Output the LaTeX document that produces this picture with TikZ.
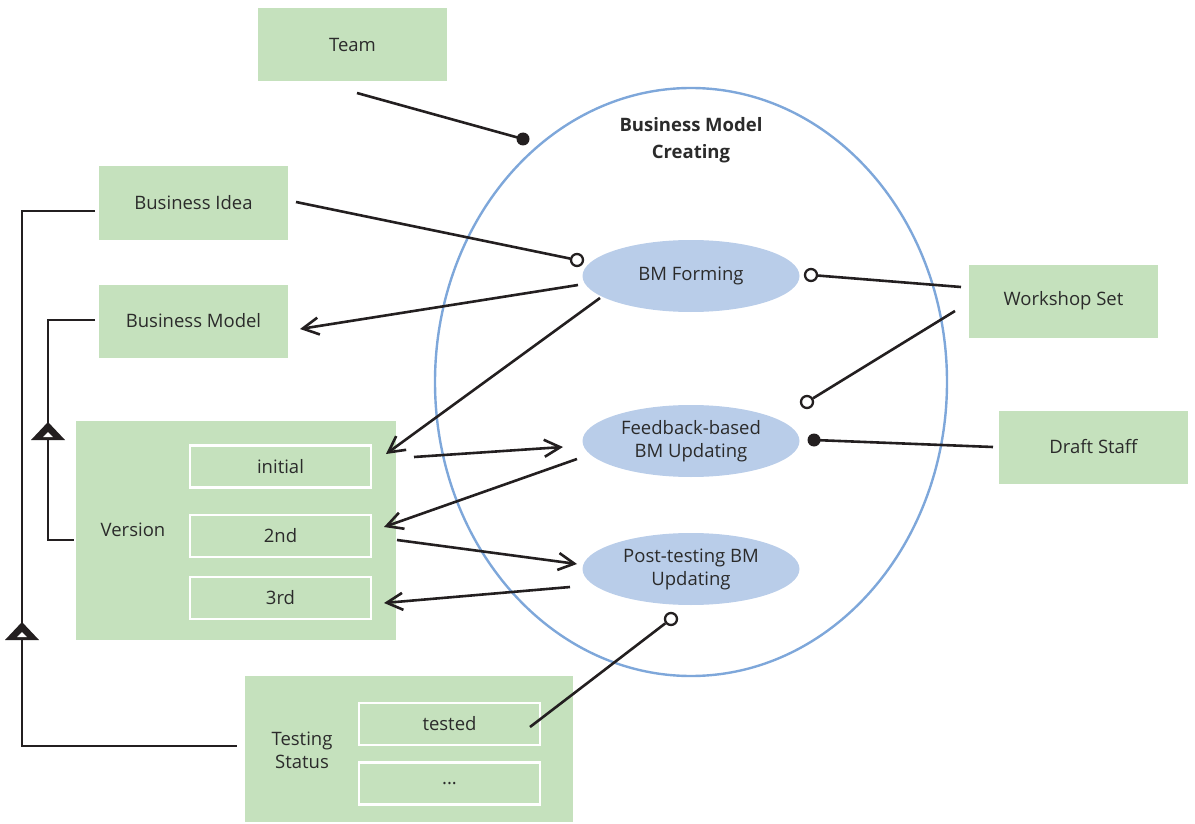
\documentclass[tikz,border=0pt]{standalone}
\usepackage{fontspec}
\setmainfont{Open Sans}
\usetikzlibrary{arrows.meta,shapes.geometric}
\definecolor{boxgreen}{HTML}{C5E1BD}
\definecolor{usefill}{HTML}{B9CDE9}
\definecolor{frameblue}{HTML}{7EA7DA}
\definecolor{ink}{HTML}{231F20}
\definecolor{txt}{HTML}{2B2B2B}
\begin{document}
\begin{tikzpicture}[x=1pt,y=-1pt,
  lbl/.style={text=txt,font=\fontsize{18.5}{23}\selectfont},
  box/.style={lbl,fill=boxgreen,draw=none,inner sep=0pt,minimum width=189pt,minimum height=73pt},
  slot/.style={lbl,fill=boxgreen,draw=white,line width=2.5pt,inner sep=0pt,minimum width=181pt,minimum height=42pt},
  usecase/.style={lbl,ellipse,fill=usefill,draw=none,inner sep=0pt,minimum width=217pt,minimum height=72pt,align=center},
  link/.style={draw=ink,line width=2.6pt},
  flow/.style={link,-{Straight Barb[length=16pt,width=17pt]}},
  opendot/.style={circle,draw=ink,fill=white,line width=2.3pt,minimum size=12pt,inner sep=0pt},
  fulldot/.style={circle,fill=ink,draw=none,minimum size=13pt,inner sep=0pt},
  genhead/.pic={
    \fill[ink] (-17,9) -- (0,-9) -- (17,9) -- cycle;
    \fill[white] (-5,6) -- (0,1) -- (5,6) -- cycle;
  }
]
\useasboundingbox (0,0) rectangle (1195,824);

% system boundary
\draw[frameblue,line width=2.4pt] (691,382) ellipse [x radius=256, y radius=294];
\node[font=\fontsize{18.5}{27}\selectfont\bfseries,text=txt,align=center] (title) at (691,140) {Business Model\\Creating};

% use cases
\node[usecase] (form) at (691,276) {BM Forming};
\node[usecase] (feed) at (691,441) {Feedback-based\\BM Updating};
\node[usecase] (post) at (691,569) {Post-testing BM\\Updating};

% classes
\node[box] (team) at (352.5,45) {Team};
\node[box] (idea) at (193.5,203) {Business Idea};
\node[box] (model) at (193.5,321) {Business Model};
\node[box] (workshop) at (1063.5,301) {Workshop Set};
\node[box] (draft) at (1093.5,447) {Draft Staff};

\node[box,minimum width=320pt,minimum height=219pt] (version) at (236,530.5) {};
\node[lbl] (versionlbl) at (133,530) {Version};
\node[slot] (initial) at (280.5,466.5) {initial};
\node[slot] (second) at (280.5,536) {2nd};
\node[slot] (third) at (280.5,598) {3rd};

\node[box,minimum width=328pt,minimum height=146pt] (testing) at (409,749) {};
\node[lbl,align=center] (testinglbl) at (302,750) {Testing\\Status};
\node[slot] (tested) at (449.5,724) {tested};
\node[slot] (etc) at (449.5,783.5) {...};

% connector end points
\coordinate (teamE) at (357,93);
\coordinate (ideaE) at (296,202);
\coordinate (formA) at (578,285);
\coordinate (formB) at (600,298);
\coordinate (modelE) at (300,329);
\coordinate (initialE) at (386,454);
\coordinate (initialS) at (414,457);
\coordinate (feedIn) at (563,447);
\coordinate (feedOut) at (577,459);
\coordinate (secondE) at (384,527);
\coordinate (secondS) at (397,540);
\coordinate (postIn) at (577,564);
\coordinate (postOut) at (570,587);
\coordinate (thirdE) at (384,603);
\coordinate (workA) at (961,287);
\coordinate (workB) at (955,311);
\coordinate (draftE) at (993,447);
\coordinate (testedE) at (530,727);

% ends on the use cases
\node[fulldot] (teamDot) at (523,139) {};
\node[opendot] (ideaDot) at (577,260) {};
\node[opendot] (workDotA) at (811,275) {};
\node[opendot] (workDotB) at (807,402) {};
\node[fulldot] (draftDot) at (814,440) {};
\node[opendot] (testedDot) at (671,619) {};

% associations
\draw[link] (teamE) -- (teamDot.center);
\draw[link] (ideaE) -- (ideaDot);
\draw[link] (workA) -- (workDotA);
\draw[link] (workB) -- (workDotB);
\draw[link] (draftE) -- (draftDot.center);
\draw[link] (testedE) -- (testedDot);

% flows
\draw[flow] (formA) -- (modelE);
\draw[flow] (formB) -- (initialE);
\draw[flow] (initialS) -- (feedIn);
\draw[flow] (feedOut) -- (secondE);
\draw[flow] (secondS) -- (postIn);
\draw[flow] (postOut) -- (thirdE);

% generalizations
\coordinate (ideaG) at (95,211);
\coordinate (testingG) at (237,746);
\coordinate (modelG) at (95,320);
\coordinate (versionG) at (74,540);
\draw[link,line join=miter] (ideaG) -- (22,211) -- (22,746) -- (testingG);
\draw[link,line join=miter] (modelG) -- (48,320) -- (48,540) -- (versionG);
\pic at (22,631) {genhead};
\pic at (48,431) {genhead};
\end{tikzpicture}
\end{document}
